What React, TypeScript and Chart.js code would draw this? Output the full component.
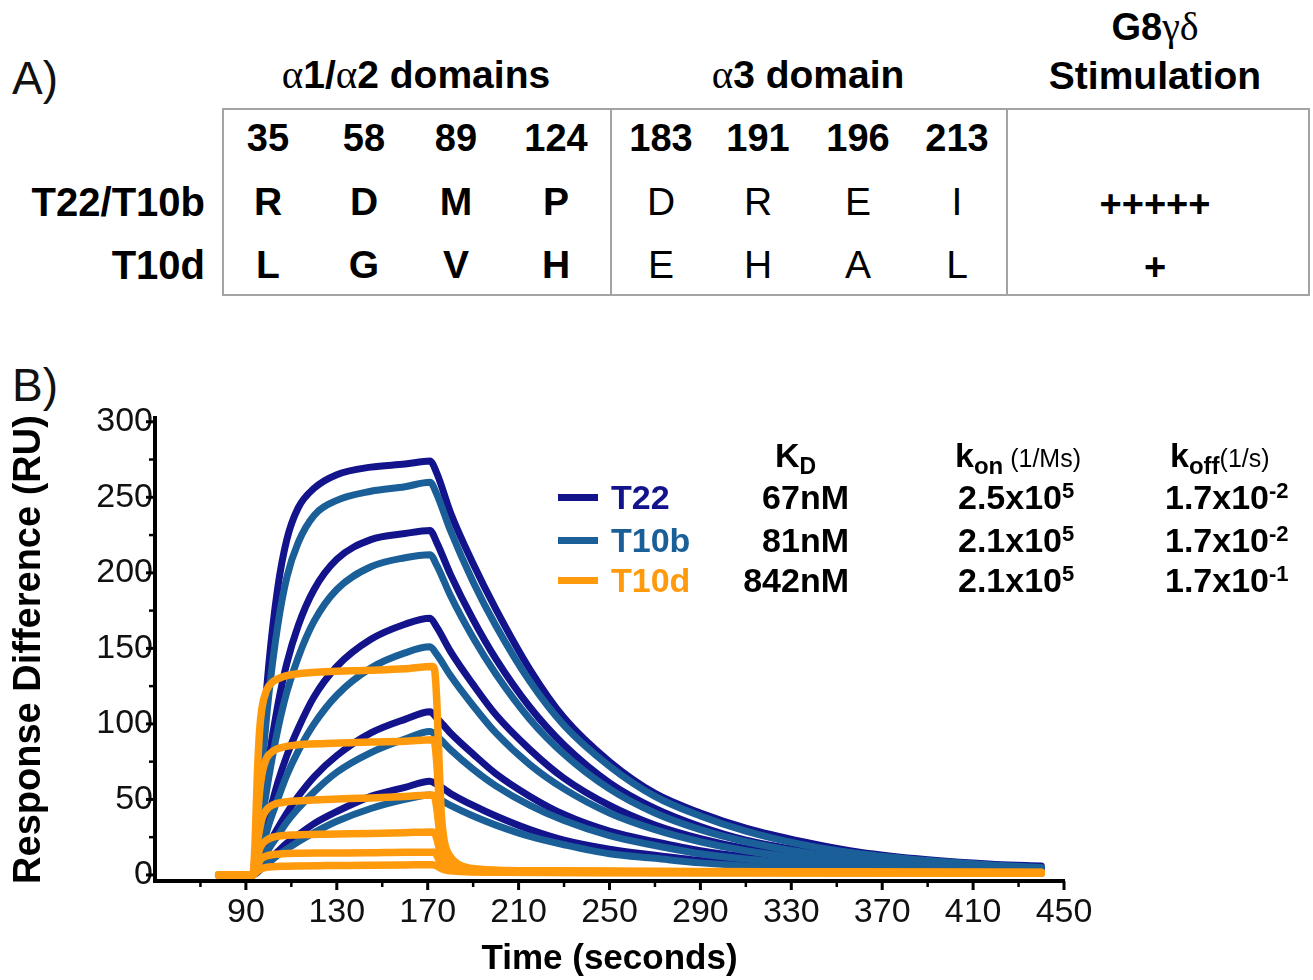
import React, { useEffect, useRef } from "react";
import { Chart, registerables } from "chart.js";

Chart.register(...registerables);

const FONT = '"Liberation Sans", Arial, Helvetica, sans-serif';
const GREEK = '"Liberation Serif", "DejaVu Serif", serif';

const NAVY = "#13138c";
const TEAL = "#1a5f97";
const ORANGE = "#ff9a0c";

// ---------- Panel B data (time in seconds, response in RU) ----------
const blueTimes = [78, 93, 95, 97, 100, 104, 108, 113, 120, 130, 145, 160, 171, 174, 180, 190, 200, 215, 230, 250, 270, 290, 310, 335, 360, 390, 420, 440];

const t22_c1 = [0, 0, 30, 80, 138, 190, 222, 243, 256, 265, 270, 272, 274, 266, 240, 206, 176, 136, 104, 75, 54, 41, 31, 22, 15, 10, 7, 6];
const t22_c2 = [0, 0, 15, 42, 76, 112, 140, 165, 189, 209, 222, 226, 228, 220, 199, 169, 143, 111, 86, 61, 44, 32, 23, 16, 11, 7.5, 5.5, 4.5];
const t22_c3 = [0, 0, 7, 21, 39, 61, 79, 97, 118, 138, 156, 166, 170, 164, 148, 126, 106, 83, 64, 46, 33, 24, 17.5, 12.5, 8.5, 6, 4, 3.5];
const t22_c4 = [0, 0, 4, 10, 20, 31, 41, 52, 65, 79, 94, 103, 108, 104, 94, 80, 67, 52, 40, 29, 22, 16, 12, 8.5, 6, 4, 3, 2.5];
const t22_c5 = [0, 0, 2, 5.5, 10, 15.5, 21, 26.5, 34, 42, 52, 58, 62, 60, 54, 46, 39, 30, 23, 17, 13, 9.5, 7, 5, 3.5, 2.5, 2, 1.5];

const t10b_c1 = [0, 0, 25, 68, 118, 165, 197, 220, 238, 248, 254, 257, 260, 252, 228, 194, 165, 128, 99, 72, 52, 39, 29, 20, 14, 9.5, 6.5, 5];
const t10b_c2 = [0, 0, 12, 35, 64, 96, 121, 144, 168, 189, 204, 210, 212, 205, 185, 157, 133, 103, 80, 57, 41, 30, 22, 15, 10.5, 7, 5, 4];
const t10b_c3 = [0, 0, 6, 17, 33, 50, 66, 82, 100, 119, 137, 147, 151, 146, 132, 112, 94, 73, 57, 41, 30, 22, 16, 11, 8, 5.5, 4, 3];
const t10b_c4 = [0, 0, 3, 9, 17, 26, 35, 44, 55, 68, 81, 90, 95, 92, 83, 70, 59, 46, 36, 26, 19.5, 14, 10.5, 7.5, 5, 3.5, 2.5, 2];
const t10b_c5 = [0, 0, 1.5, 4.5, 8, 13, 17, 22, 28, 35.5, 44, 50, 53, 51, 46, 39, 33, 25.5, 20, 14, 11, 8, 6, 4.5, 3, 2, 1.5, 1];

const orangeTimes = [78, 93, 94, 95, 96, 97, 99, 102, 106, 112, 125, 145, 160, 172, 173, 174, 175, 176, 177, 178, 180, 183, 187, 192, 200, 220, 260, 320, 380, 440];

const t10d_c1 = [0, 0, 20, 65, 95, 110, 122, 128, 131, 133, 134.5, 135.5, 136.5, 138, 136, 115, 75, 40, 25, 18, 12, 7.5, 5, 4, 3.2, 2.8, 2.5, 2.2, 2, 1.8];
const t10d_c2 = [0, 0, 10, 35, 55, 66, 77, 82, 84.5, 86, 87, 88, 88.5, 89.5, 88, 74, 50, 28, 19, 14, 10, 6.5, 4.5, 3.5, 3, 2.6, 2.3, 2, 1.8, 1.6];
const t10d_c3 = [0, 0, 6, 20, 30, 37, 43, 46.5, 48, 49, 50, 51, 52, 53, 52, 44, 31, 19, 13.5, 10.5, 7.5, 5, 3.8, 3, 2.6, 2.3, 2, 1.8, 1.6, 1.5];
const t10d_c4 = [0, 0, 4, 11, 17, 20, 23, 25, 26, 26.5, 27, 27.5, 28, 28.5, 28, 24, 18, 12, 9, 7.5, 5.5, 4, 3, 2.5, 2.2, 2, 1.8, 1.6, 1.5, 1.4];
const t10d_c5 = [0, 0, 2, 6, 9, 11, 12.5, 13.5, 14, 14.3, 14.5, 14.7, 15, 15, 15, 13, 10, 7.5, 6, 5, 4, 3, 2.5, 2.2, 2, 1.8, 1.6, 1.5, 1.4, 1.3];
const t10d_c6 = [0, 0, 1, 2.5, 3.5, 4.2, 5, 5.5, 5.8, 6, 6.2, 6.4, 6.6, 6.8, 6.5, 6, 5, 4.2, 3.7, 3.3, 2.8, 2.4, 2.1, 1.9, 1.8, 1.6, 1.5, 1.4, 1.3, 1.2];

const yTickValues = [0, 25, 50, 75, 100, 125, 150, 175, 200, 225, 250, 275, 300];
const xTickValues = [50, 70, 90, 110, 130, 150, 170, 190, 210, 230, 250, 270, 290, 310, 330, 350, 370, 390, 410, 430, 450];
const xLabelValues = [90, 130, 170, 210, 250, 290, 330, 370, 410, 450];
const yLabelValues = [0, 50, 100, 150, 200, 250, 300];

// ---------- Panel A table ----------
const positions12 = ["35", "58", "89", "124"];
const positions3 = ["183", "191", "196", "213"];
const t22Res12 = ["R", "D", "M", "P"];
const t22Res3 = ["D", "R", "E", "I"];
const t10dRes12 = ["L", "G", "V", "H"];
const t10dRes3 = ["E", "H", "A", "L"];
const stimulation = ["+++++", "+"];

// ---------- Kinetics table ----------
const legendNames = ["T22", "T10b", "T10d"];
const legendColors = [NAVY, TEAL, ORANGE];
const kdValues = ["67nM", "81nM", "842nM"];
const konMant = ["2.5x10", "2.1x10", "2.1x10"];
const konExp = ["5", "5", "5"];
const koffMant = ["1.7x10", "1.7x10", "1.7x10"];
const koffExp = ["-2", "-2", "-1"];

const col12X = [268, 364, 456, 556];
const col3X = [661, 758, 858, 957];
const rowY = [497, 540, 580];

function pts(times: number[], vals: number[]) {
  return times.map((t, i) => ({ x: t, y: vals[i] }));
}

function Label(props: any) {
  const { x, y, align = "center", size = 38, weight = 700, color = "#000", children, family = FONT } = props;
  const W = 800;
  const left = align === "center" ? x - W / 2 : align === "right" ? x - W : x;
  return (
    <div
      style={{
        position: "absolute",
        left,
        top: y - size * 0.59,
        width: W,
        textAlign: align,
        fontSize: size,
        fontWeight: weight,
        lineHeight: 1.2,
        color,
        fontFamily: family,
        whiteSpace: "nowrap",
      }}
    >
      {children}
    </div>
  );
}

const G = (s: string) => (
  <span style={{ fontFamily: GREEK, fontWeight: 400, fontSize: "1.05em" }}>{s}</span>
);

const tickMarks = {
  id: "tickMarks",
  afterDraw(chart: any) {
    const { ctx, chartArea, scales } = chart;
    const xs = scales.x;
    const ys = scales.y;
    ctx.save();
    ctx.strokeStyle = "#000";
    ys.ticks.forEach((t: any) => {
      const p = ys.getPixelForValue(t.value);
      const major = yLabelValues.includes(t.value);
      ctx.lineWidth = major ? 3 : 2.5;
      const len = major ? 7 : 4;
      ctx.beginPath();
      ctx.moveTo(chartArea.left - 2 - len, p);
      ctx.lineTo(chartArea.left, p);
      ctx.stroke();
    });
    xs.ticks.forEach((t: any) => {
      if (t.value === 50) return;
      const p = xs.getPixelForValue(t.value);
      const major = xLabelValues.includes(t.value);
      ctx.lineWidth = major ? 3 : 2.5;
      const len = major ? 7 : 4;
      ctx.beginPath();
      ctx.moveTo(p, chartArea.bottom);
      ctx.lineTo(p, chartArea.bottom + 2 + len);
      ctx.stroke();
    });
    ctx.restore();
  },
};

function SprChart() {
  const ref = useRef<HTMLCanvasElement | null>(null);
  useEffect(() => {
    if (!ref.current) return;
    const line = (data: any, color: string, order: number) => ({
      data,
      borderColor: color,
      backgroundColor: color,
      borderWidth: 7,
      pointRadius: 0,
      fill: false,
      cubicInterpolationMode: "monotone",
      borderCapStyle: "round",
      borderJoinStyle: "round",
      order,
    });
    const datasets: any[] = [
      ...[t22_c1, t22_c2, t22_c3, t22_c4, t22_c5].map((v) => line(pts(blueTimes, v), NAVY, 2)),
      ...[t10b_c1, t10b_c2, t10b_c3, t10b_c4, t10b_c5].map((v) => line(pts(blueTimes, v), TEAL, 1)),
      ...[t10d_c1, t10d_c2, t10d_c3, t10d_c4, t10d_c5, t10d_c6].map((v) => ({
        ...line(pts(orangeTimes, v), ORANGE, 0),
        borderWidth: 7.5,
      })),
    ];
    const chart = new Chart(ref.current, {
      type: "line",
      data: { datasets },
      plugins: [tickMarks],
      options: {
        animation: false,
        responsive: false,
        devicePixelRatio: 1,
        layout: { padding: { top: 88, right: 249, left: 0, bottom: 0 } },
        plugins: { legend: { display: false }, tooltip: { enabled: false } },
        scales: {
          x: {
            type: "linear",
            min: 50,
            max: 450,
            afterBuildTicks: (s: any) => {
              s.ticks = xTickValues.map((v) => ({ value: v }));
            },
            afterFit: (s: any) => {
              s.height = 99;
            },
            grid: { display: false, drawTicks: false },
            border: { display: true, color: "#000", width: 4 },
            ticks: {
              autoSkip: false,
              maxRotation: 0,
              padding: 11,
              color: "#111",
              font: { family: FONT, size: 34 },
              callback: (v: any) => (xLabelValues.includes(Number(v)) ? String(v) : ""),
            },
            title: {
              display: true,
              text: "Time (seconds)",
              color: "#000",
              font: { family: FONT, size: 35, weight: "bold" },
              padding: { top: 0, bottom: 0 },
            },
          },
          y: {
            type: "linear",
            min: -4,
            max: 302.5,
            afterBuildTicks: (s: any) => {
              s.ticks = yTickValues.map((v) => ({ value: v }));
            },
            afterFit: (s: any) => {
              s.width = 155;
            },
            grid: { display: false, drawTicks: false },
            border: { display: true, color: "#000", width: 4 },
            ticks: {
              autoSkip: false,
              padding: 2,
              color: "#111",
              font: { family: FONT, size: 34 },
              callback: (v: any) => (yLabelValues.includes(Number(v)) ? String(v) : ""),
            },
            title: {
              display: true,
              text: "Response Difference (RU)",
              color: "#000",
              font: { family: FONT, size: 38, weight: "bold" },
              padding: { top: 7, bottom: 0 },
            },
          },
        },
      } as any,
    } as any);
    return () => chart.destroy();
  }, []);
  return (
    <canvas
      ref={ref}
      width={1313}
      height={650}
      style={{ position: "absolute", left: 0, top: 330, width: 1313, height: 650 }}
    />
  );
}

export default function App() {
  const gray = "#a3a3a3";
  return (
    <div
      style={{
        position: "absolute",
        left: 0,
        top: 0,
        width: 1313,
        height: 980,
        overflow: "hidden",
        background: "#fff",
        fontFamily: FONT,
      }}
    >
      {/* Panel A */}
      <Label x={12} y={78} align="left" size={46} weight={400} color="#111">A)</Label>
      <Label x={416} y={73} size={39}>{G("α")}1/{G("α")}2 domains</Label>
      <Label x={808} y={73} size={39}>{G("α")}3 domain</Label>
      <Label x={1155} y={25} size={38}>G8{G("γδ")}</Label>
      <Label x={1155} y={76} size={39}>Stimulation</Label>

      <div
        style={{
          position: "absolute",
          left: 222,
          top: 108,
          width: 1088,
          height: 188,
          border: `2px solid ${gray}`,
          boxSizing: "border-box",
        }}
      />
      <div style={{ position: "absolute", left: 610, top: 108, width: 2, height: 188, background: gray }} />
      <div style={{ position: "absolute", left: 1006, top: 108, width: 2, height: 188, background: gray }} />

      {positions12.map((s, i) => (
        <Label key={"p12" + i} x={col12X[i]} y={138} size={38}>{s}</Label>
      ))}
      {positions3.map((s, i) => (
        <Label key={"p3" + i} x={col3X[i]} y={138} size={38}>{s}</Label>
      ))}

      <Label x={205} y={202} align="right" size={40}>T22/T10b</Label>
      <Label x={205} y={265} align="right" size={40}>T10d</Label>
      {t22Res12.map((s, i) => (
        <Label key={"a" + i} x={col12X[i]} y={202} size={39}>{s}</Label>
      ))}
      {t22Res3.map((s, i) => (
        <Label key={"b" + i} x={col3X[i]} y={202} size={39} weight={400}>{s}</Label>
      ))}
      {t10dRes12.map((s, i) => (
        <Label key={"c" + i} x={col12X[i]} y={265} size={39}>{s}</Label>
      ))}
      {t10dRes3.map((s, i) => (
        <Label key={"d" + i} x={col3X[i]} y={265} size={39} weight={400}>{s}</Label>
      ))}
      <Label x={1155} y={204} size={38}>{stimulation[0]}</Label>
      <Label x={1155} y={267} size={38}>{stimulation[1]}</Label>

      {/* Panel B */}
      <Label x={12} y={385} align="left" size={46} weight={400} color="#111">B)</Label>
      <SprChart />

      {legendNames.map((n, i) => (
        <React.Fragment key={"lg" + i}>
          <div
            style={{
              position: "absolute",
              left: 558,
              top: rowY[i] - 3.5,
              width: 40,
              height: 7,
              background: legendColors[i],
            }}
          />
          <Label x={611} y={rowY[i]} align="left" size={34} color={legendColors[i]}>{n}</Label>
        </React.Fragment>
      ))}

      <Label x={775} y={455} align="left" size={34}>
        K<span style={{ fontSize: 23, position: "relative", top: 7 }}>D</span>
      </Label>
      <Label x={955} y={455} align="left" size={34}>
        k<span style={{ fontSize: 24, position: "relative", top: 7 }}>on</span>
        <span style={{ fontSize: 25, fontWeight: 400 }}> (1/Ms)</span>
      </Label>
      <Label x={1170} y={455} align="left" size={34}>
        k<span style={{ fontSize: 24, position: "relative", top: 7 }}>off</span>
        <span style={{ fontSize: 25, fontWeight: 400 }}>(1/s)</span>
      </Label>

      {kdValues.map((v, i) => (
        <Label key={"kd" + i} x={849} y={rowY[i]} align="right" size={34}>{v}</Label>
      ))}
      {konMant.map((v, i) => (
        <Label key={"kon" + i} x={958} y={rowY[i]} align="left" size={34}>
          {v}
          <span style={{ fontSize: 22, position: "relative", top: -11 }}>{konExp[i]}</span>
        </Label>
      ))}
      {koffMant.map((v, i) => (
        <Label key={"koff" + i} x={1165} y={rowY[i]} align="left" size={34}>
          {v}
          <span style={{ fontSize: 22, position: "relative", top: -11 }}>{koffExp[i]}</span>
        </Label>
      ))}
    </div>
  );
}
